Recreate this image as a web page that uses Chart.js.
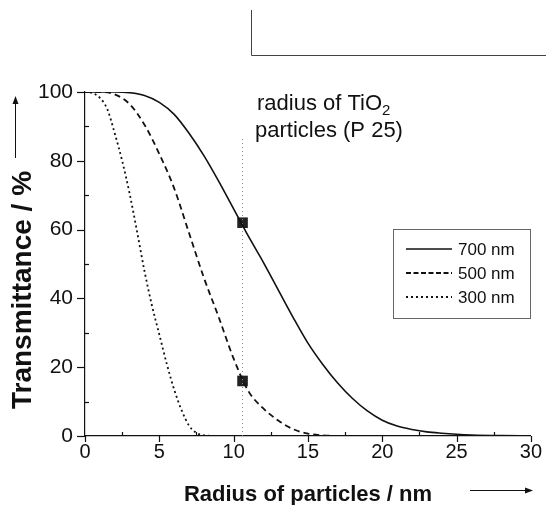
<!DOCTYPE html>
<html>
<head>
<meta charset="utf-8">
<script src="https://cdn.jsdelivr.net/npm/chart.js@4.4.0/dist/chart.umd.min.js"></script>
<style>
  html, body { margin: 0; padding: 0; background: #fff; }
  #wrap { width: 546px; height: 505px; }
</style>
</head>
<body>
<div id="wrap"><canvas id="chartTrans" width="546" height="505"></canvas></div>
<script>
// Dados
const seriesLabels = ['700 nm', '500 nm', '300 nm'];

const radius700 = [0, 1, 2, 3, 4, 5, 6, 7, 8, 9, 10, 11, 12, 13, 14, 15, 16, 17, 18, 19, 20, 21, 22, 23, 24, 25, 26, 28, 30];
const trans700  = [100, 100, 100, 99.8, 99, 97, 93.5, 88, 81.5, 74, 66, 58, 50.5, 42.5, 34.5, 27, 20.8, 15.4, 10.9, 7.3, 4.6, 2.9, 1.9, 1.2, 0.8, 0.5, 0.3, 0.1, 0];

const radius500 = [0, 1, 2, 3, 4, 5, 6, 7, 8, 9, 10, 11, 12, 13, 14, 15, 16, 18, 30];
const trans500  = [100, 100, 99.3, 96.5, 90.5, 82, 72, 59, 46, 34.5, 22.5, 13, 8, 4.5, 2, 0.7, 0.2, 0, 0];

const radius300 = [0, 0.5, 1, 1.5, 2, 2.5, 3, 3.5, 4, 4.5, 5, 5.5, 6, 6.5, 7, 7.5, 8, 9, 30];
const trans300  = [100, 99.7, 98.3, 95, 88, 80, 70.5, 59.5, 48, 38, 29.5, 21, 13.5, 7.5, 3, 0.9, 0.2, 0, 0];

// raio das partículas de TiO2 (P 25) e pontos marcados
const particleRadius = 10.6;
const markerValues = [62, 16];
const guideTop = 87;

const xTicks = [0, 5, 10, 15, 20, 25, 30];
const yTicks = [0, 20, 40, 60, 80, 100];

function pares(xs, ys) {
    return xs.map((x, i) => ({ x: x, y: ys[i] }));
}

const FONT = "'Liberation Sans', Arial, sans-serif";
const INK = '#111';

// Estilos das curvas (também usados na legenda)
const estilos = [
    { dash: [], width: 1.6 },
    { dash: [6, 4], width: 1.8 },
    { dash: [2, 3], width: 1.8 }
];

// Plugin para ticks, títulos, anotação e legenda
const decorPlugin = {
    id: 'decor',
    afterDraw(chart) {
        const ctx = chart.ctx;
        const xs = chart.scales.x;
        const ys = chart.scales.y;
        const left = chart.chartArea.left;
        const bottom = chart.chartArea.bottom;

        ctx.save();
        ctx.strokeStyle = INK;
        ctx.lineWidth = 1.2;

        // ticks do eixo y: maiores para fora, menores para dentro
        for (let v = 0; v <= 100; v += 10) {
            const py = Math.round(ys.getPixelForValue(v)) + 0.5;
            ctx.beginPath();
            if (v % 20 === 0) {
                ctx.moveTo(left - 8, py);
                ctx.lineTo(left, py);
            } else {
                ctx.moveTo(left, py);
                ctx.lineTo(left + 4, py);
            }
            ctx.stroke();
        }
        // ticks do eixo x
        for (let v = 0; v <= 30; v += 2.5) {
            const px = Math.round(xs.getPixelForValue(v)) + 0.5;
            ctx.beginPath();
            if (v % 5 === 0) {
                ctx.moveTo(px, bottom);
                ctx.lineTo(px, bottom + 6);
            } else {
                ctx.moveTo(px, bottom);
                ctx.lineTo(px, bottom - 4);
            }
            ctx.stroke();
        }

        // título do eixo y e seta
        ctx.fillStyle = INK;
        ctx.font = 'bold 28px ' + FONT;
        ctx.save();
        ctx.translate(23, 290);
        ctx.rotate(-Math.PI / 2);
        ctx.textAlign = 'center';
        ctx.textBaseline = 'middle';
        ctx.fillText('Transmittance / %', 0, 0);
        ctx.restore();
        ctx.lineWidth = 1;
        ctx.beginPath();
        ctx.moveTo(15.5, 158);
        ctx.lineTo(15.5, 100);
        ctx.stroke();
        ctx.beginPath();
        ctx.moveTo(15.5, 96);
        ctx.lineTo(12.5, 104);
        ctx.lineTo(18.5, 104);
        ctx.closePath();
        ctx.fill();

        // título do eixo x e seta
        ctx.font = 'bold 22px ' + FONT;
        ctx.textAlign = 'center';
        ctx.textBaseline = 'middle';
        ctx.fillText('Radius of particles / nm', 308, 495);
        ctx.beginPath();
        ctx.moveTo(470, 490.5);
        ctx.lineTo(528, 490.5);
        ctx.stroke();
        ctx.beginPath();
        ctx.moveTo(533, 490.5);
        ctx.lineTo(525, 487.5);
        ctx.lineTo(525, 493.5);
        ctx.closePath();
        ctx.fill();

        // anotação
        ctx.textAlign = 'left';
        ctx.textBaseline = 'alphabetic';
        ctx.font = '22px ' + FONT;
        const t1 = 'radius of TiO';
        ctx.fillText(t1, 257, 110);
        const w1 = ctx.measureText(t1).width;
        ctx.font = '15px ' + FONT;
        ctx.fillText('2', 257 + w1, 115);
        ctx.font = '22px ' + FONT;
        ctx.fillText('particles (P 25)', 255, 137);

        // legenda
        ctx.strokeStyle = '#666';
        ctx.lineWidth = 1;
        ctx.strokeRect(393.5, 229.5, 137, 89);
        ctx.font = '17px ' + FONT;
        ctx.textBaseline = 'middle';
        seriesLabels.forEach((lab, i) => {
            const yy = 249 + i * 24;
            ctx.strokeStyle = INK;
            ctx.lineWidth = estilos[i].width;
            ctx.setLineDash(i === 1 ? [5, 2.5] : estilos[i].dash);
            ctx.beginPath();
            ctx.moveTo(406, yy);
            ctx.lineTo(452, yy);
            ctx.stroke();
            ctx.setLineDash([]);
            ctx.fillText(lab, 458, yy + 1);
        });

        // fragmento da figura vizinha no topo
        ctx.strokeStyle = '#444';
        ctx.lineWidth = 1;
        ctx.beginPath();
        ctx.moveTo(251.5, 10);
        ctx.lineTo(251.5, 55.5);
        ctx.lineTo(546, 55.5);
        ctx.stroke();

        ctx.restore();
    }
};

const ctx = document.getElementById('chartTrans').getContext('2d');
const series = [pares(radius700, trans700), pares(radius500, trans500), pares(radius300, trans300)];

const datasets = series.map((d, i) => ({
    label: seriesLabels[i],
    data: d,
    borderColor: INK,
    borderWidth: estilos[i].width,
    borderDash: estilos[i].dash,
    pointRadius: 0,
    cubicInterpolationMode: 'monotone',
    fill: false
}));

// linha pontilhada vertical no raio das partículas
datasets.push({
    label: 'guide',
    data: [{ x: particleRadius, y: 0 }, { x: particleRadius, y: guideTop }],
    borderColor: '#888',
    borderWidth: 1,
    borderDash: [1, 3],
    pointRadius: 0
});

// quadrados marcados
datasets.push({
    label: 'markers',
    data: markerValues.map(v => ({ x: particleRadius, y: v })),
    showLine: false,
    pointStyle: 'rect',
    pointRadius: 7.5,
    backgroundColor: '#222',
    borderColor: '#222',
    borderWidth: 0
});

new Chart(ctx, {
    type: 'line',
    data: { datasets: datasets },
    options: {
        responsive: false,
        animation: false,
        layout: { padding: { top: 92, right: 15, left: 0, bottom: 0 } },
        plugins: { legend: { display: false }, tooltip: { enabled: false } },
        scales: {
            x: {
                type: 'linear',
                min: 0,
                max: 30,
                afterFit: s => { s.height = 69; },
                afterBuildTicks: s => { s.ticks = xTicks.map(v => ({ value: v })); },
                grid: { display: false, drawTicks: false },
                border: { display: true, color: INK, width: 1.2 },
                ticks: { color: INK, font: { family: FONT, size: 20 }, padding: 4, maxRotation: 0 }
            },
            y: {
                min: 0,
                max: 100,
                afterFit: s => { s.width = 85; },
                afterBuildTicks: s => { s.ticks = yTicks.map(v => ({ value: v })); },
                grid: { display: false, drawTicks: false },
                border: { display: true, color: INK, width: 1.2 },
                ticks: { color: INK, font: { family: FONT, size: 21 }, padding: 12 }
            }
        }
    },
    plugins: [decorPlugin]
});
</script>
</body>
</html>
